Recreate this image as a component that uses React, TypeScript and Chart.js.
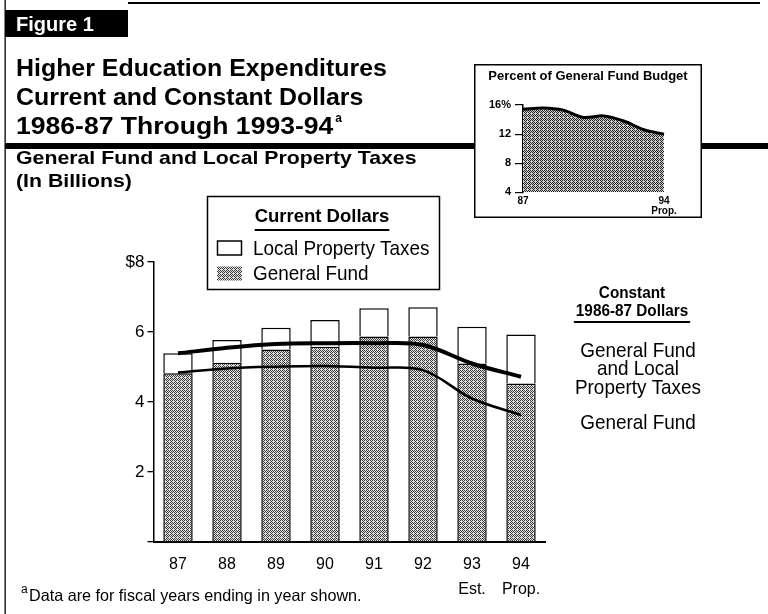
import { useEffect, useRef } from 'react';
import { Chart, registerables } from 'chart.js';

Chart.register(...registerables);

// Fiscal years (ending in year shown)
const years: (string | string[])[] = ['87', '88', '89', '90', '91', '92', ['93', 'Est.'], ['94', 'Prop.']];

// Current dollars, in billions
const generalFund = [4.82, 5.12, 5.5, 5.58, 5.87, 5.87, 5.1, 4.53];
const localPropertyTaxes = [0.57, 0.65, 0.62, 0.76, 0.81, 0.84, 1.05, 1.4];

// Constant 1986-87 dollars, in billions
const constantTotal = [5.39, 5.55, 5.66, 5.68, 5.68, 5.63, 5.1, 4.72];
const constantGeneralFund = [4.84, 4.96, 5.01, 5.03, 4.98, 4.91, 4.1, 3.63];

// Higher education as percent of the General Fund budget
const insetYears = ['87', '88', '89', '90', '91', '92', '93', '94'];
const percentOfBudget = [15.4, 15.6, 15.3, 14.3, 14.5, 13.8, 12.6, 12.0];

const FONT = '"Liberation Sans", Arial, Helvetica, sans-serif';

function stipple(ctx: CanvasRenderingContext2D, dark: string, light: string) {
  const tile = document.createElement('canvas');
  tile.width = 4;
  tile.height = 4;
  const g = tile.getContext('2d')!;
  g.fillStyle = light;
  g.fillRect(0, 0, 4, 4);
  g.fillStyle = dark;
  for (let y = 0; y < 4; y++)
    for (let x = 0; x < 4; x++) if ((x + y) % 2 === 0) g.fillRect(x, y, 1, 1);
  g.fillStyle = '#cfcfcf';
  g.fillRect(1, 1, 1, 1);
  return ctx.createPattern(tile, 'repeat')!;
}

function txt(
  ctx: CanvasRenderingContext2D,
  s: string,
  x: number,
  y: number,
  font: string,
  align: CanvasTextAlign = 'left',
  sx = 1,
  color = '#000'
) {
  ctx.save();
  ctx.font = font;
  ctx.fillStyle = color;
  ctx.textAlign = align;
  ctx.textBaseline = 'alphabetic';
  ctx.translate(x, y);
  ctx.scale(sx, 1);
  ctx.fillText(s, 0, 0);
  const w = ctx.measureText(s).width * sx;
  ctx.restore();
  return w;
}

const pagePlugin = {
  id: 'page',
  beforeDraw(chart: Chart) {
    const ctx = chart.ctx;
    ctx.save();
    ctx.fillStyle = '#fff';
    ctx.fillRect(0, 0, chart.width, chart.height);
    ctx.restore();
  },
  afterDraw(chart: Chart) {
    const ctx = chart.ctx;
    const pattern = (chart as any).$stipple as CanvasPattern;
    ctx.save();
    ctx.fillStyle = '#000';
    // frame
    ctx.fillRect(4.5, 0, 1.3, 614);
    ctx.fillRect(128, 2, 632, 2);
    ctx.fillRect(5, 10, 123, 27);
    ctx.fillRect(5, 143, 763, 6);
    txt(ctx, 'Figure 1', 16, 31, `bold 20px ${FONT}`, 'left', 1, '#fff');

    // heading
    txt(ctx, 'Higher Education Expenditures', 16, 76, `bold 23.5px ${FONT}`, 'left', 1.06);
    txt(ctx, 'Current and Constant Dollars', 16, 105, `bold 23.5px ${FONT}`, 'left', 1.06);
    const w = txt(ctx, '1986-87 Through 1993-94', 16, 134, `bold 23.5px ${FONT}`, 'left', 1.13);
    txt(ctx, 'a', 16 + w + 2, 122, `bold 12px ${FONT}`);

    txt(ctx, 'General Fund and Local Property Taxes', 16, 164, `bold 19px ${FONT}`, 'left', 1.12);
    txt(ctx, '(In Billions)', 16, 187, `bold 19px ${FONT}`, 'left', 1.12);

    // legend box
    ctx.lineWidth = 1.5;
    ctx.strokeStyle = '#000';
    ctx.strokeRect(207.5, 196.5, 232, 93);
    const lw = txt(ctx, 'Current Dollars', 322, 222, `bold 18.5px ${FONT}`, 'center', 1.0);
    ctx.fillRect(322 - lw / 2, 229, lw, 2);
    ctx.fillStyle = '#fff';
    ctx.fillRect(217.5, 241, 24, 14);
    ctx.strokeRect(217.5, 241, 24, 14);
    ctx.fillStyle = pattern;
    ctx.fillRect(217, 266.5, 25, 14);
    ctx.fillStyle = '#000';
    txt(ctx, 'Local Property Taxes', 253, 255, `21px ${FONT}`, 'left', 0.9);
    txt(ctx, 'General Fund', 253, 280, `21px ${FONT}`, 'left', 0.9);

    // constant-dollar annotations
    txt(ctx, 'Constant', 632, 298, `bold 17px ${FONT}`, 'center', 0.9);
    const cw = txt(ctx, '1986-87 Dollars', 632, 316, `bold 17px ${FONT}`, 'center', 0.9);
    ctx.fillRect(632 - cw / 2 - 2, 321, cw + 4, 2);
    txt(ctx, 'General Fund', 638, 357, `21px ${FONT}`, 'center', 0.9);
    txt(ctx, 'and Local', 638, 375, `21px ${FONT}`, 'center', 0.9);
    txt(ctx, 'Property Taxes', 638, 394, `21px ${FONT}`, 'center', 0.9);
    txt(ctx, 'General Fund', 638, 429, `21px ${FONT}`, 'center', 0.9);

    // footnote
    txt(ctx, 'a', 21, 593, `12px ${FONT}`);
    txt(ctx, 'Data are for fiscal years ending in year shown.', 29, 601, `16.5px ${FONT}`, 'left', 0.98);
    ctx.restore();
  },
};

const insetPlugin = {
  id: 'insetFrame',
  beforeDraw(chart: Chart) {
    const ctx = chart.ctx;
    ctx.save();
    ctx.fillStyle = '#fff';
    ctx.fillRect(0, 0, chart.width, chart.height);
    ctx.restore();
  },
  afterDraw(chart: Chart) {
    const ctx = chart.ctx;
    ctx.save();
    ctx.strokeStyle = '#000';
    ctx.lineWidth = 1.5;
    ctx.strokeRect(0.75, 0.75, chart.width - 1.5, chart.height - 1.5);
    txt(ctx, 'Percent of General Fund Budget', chart.width / 2, 16, `bold 13px ${FONT}`, 'center', 1.0);
    ctx.restore();
  },
};

export default function App() {
  const mainRef = useRef<HTMLCanvasElement>(null);
  const insetRef = useRef<HTMLCanvasElement>(null);

  useEffect(() => {
    const mainCanvas = mainRef.current!;
    const insetCanvas = insetRef.current!;
    const mctx = mainCanvas.getContext('2d')!;
    const ictx = insetCanvas.getContext('2d')!;
    const barPattern = stipple(mctx, '#3a3a3a', '#e4e4e4');
    const areaPattern = stipple(ictx, '#222', '#d0d0d0');

    const main = new Chart(mainCanvas, {
      type: 'bar',
      data: {
        labels: years as any,
        datasets: [
          {
            type: 'line',
            label: 'General Fund and Local Property Taxes (constant)',
            data: constantTotal,
            borderColor: '#000',
            borderWidth: 4,
            pointRadius: 0,
            tension: 0.35,
            fill: false,
            order: 0,
            stack: 'ct',
          } as any,
          {
            type: 'line',
            label: 'General Fund (constant)',
            data: constantGeneralFund,
            borderColor: '#000',
            borderWidth: 2.5,
            pointRadius: 0,
            tension: 0.35,
            fill: false,
            order: 0,
            stack: 'cg',
          } as any,
          {
            label: 'General Fund',
            data: generalFund,
            backgroundColor: barPattern,
            borderColor: '#000',
            borderWidth: 1.5,
            order: 1,
            stack: 'current',
          },
          {
            label: 'Local Property Taxes',
            data: localPropertyTaxes,
            backgroundColor: '#fff',
            borderColor: '#000',
            borderWidth: 1.5,
            order: 1,
            stack: 'current',
          },
        ],
      },
      options: {
        responsive: false,
        animation: false,
        events: [],
        layout: { padding: { left: 100, right: 222.5, top: 262, bottom: 0 } },
        datasets: { bar: { barPercentage: 0.6, categoryPercentage: 1 } },
        plugins: { legend: { display: false }, tooltip: { enabled: false } },
        scales: {
          x: {
            stacked: true,
            grid: { display: false, drawTicks: false },
            border: { display: true, color: '#000', width: 2 },
            ticks: {
              color: '#000',
              font: { family: FONT, size: 16, lineHeight: 1.55 },
              padding: 10,
              maxRotation: 0,
              autoSkip: false,
            },
            afterFit(s: any) {
              s.height = 72;
            },
          },
          y: {
            stacked: true,
            min: 0,
            max: 8,
            grid: { drawOnChartArea: false, tickLength: 6, color: '#000', lineWidth: 1.3 },
            border: { display: true, color: '#000', width: 1.5 },
            ticks: {
              stepSize: 2,
              color: '#000',
              padding: 3,
              font: { family: FONT, size: 17 },
              callback: (v: any) => (v === 0 ? '' : v === 8 ? '$8' : String(v)),
            },
            afterFit(s: any) {
              s.width = 53.5;
            },
          },
        },
      },
      plugins: [pagePlugin],
    });
    (main as any).$stipple = barPattern;
    main.draw();

    const inset = new Chart(insetCanvas, {
      type: 'line',
      data: {
        labels: insetYears,
        datasets: [
          {
            data: percentOfBudget,
            borderColor: '#000',
            borderWidth: 3,
            backgroundColor: areaPattern,
            fill: 'start',
            pointRadius: 0,
            tension: 0.3,
          },
        ],
      },
      options: {
        responsive: false,
        animation: false,
        events: [],
        layout: { padding: { left: 10, right: 38, top: 41, bottom: 0 } },
        plugins: { legend: { display: false }, tooltip: { enabled: false } },
        scales: {
          x: {
            offset: false,
            grid: { display: false, drawTicks: false },
            border: { display: false },
            ticks: {
              color: '#000',
              padding: 4,
              maxRotation: 0,
              autoSkip: false,
              font: { family: FONT, size: 10, weight: 'bold', lineHeight: 1.0 },
              callback: (_v: any, i: number) =>
                i === 0 ? insetYears[0] : i === insetYears.length - 1 ? [insetYears[i], 'Prop.'] : '',
            },
            afterFit(s: any) {
              s.height = 25.7;
            },
          },
          y: {
            min: 4,
            max: 16,
            grid: { drawOnChartArea: false, tickLength: 8, color: '#000', lineWidth: 1.2 },
            border: { display: true, color: '#000', width: 1.5 },
            ticks: {
              stepSize: 4,
              color: '#000',
              padding: 4,
              font: { family: FONT, size: 11, weight: 'bold' },
              callback: (v: any) => (v === 16 ? '16%' : String(v)),
            },
            afterFit(s: any) {
              s.width = 39;
            },
          },
        },
      },
      plugins: [insetPlugin],
    });

    return () => {
      main.destroy();
      inset.destroy();
    };
  }, []);

  return (
    <div style={{ position: 'absolute', left: 0, top: 0, width: 768, height: 614, background: '#fff' }}>
      <canvas
        ref={mainRef}
        width={768}
        height={614}
        style={{ position: 'absolute', left: 0, top: 0, width: 768, height: 614 }}
      />
      <canvas
        ref={insetRef}
        width={228}
        height={154}
        style={{ position: 'absolute', left: 474, top: 64, width: 228, height: 154 }}
      />
    </div>
  );
}
